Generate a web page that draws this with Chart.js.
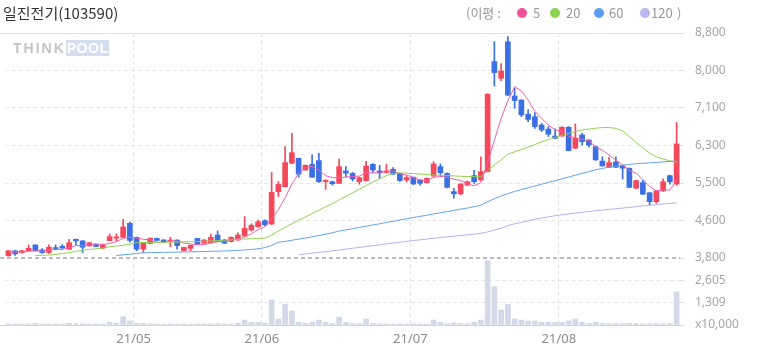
<!DOCTYPE html>
<html><head><meta charset="utf-8">
<script src="https://cdn.jsdelivr.net/npm/chart.js@4.4.1/dist/chart.umd.min.js"></script>
<style>
html,body{margin:0;padding:0;background:#fff;}
#wrap{position:relative;width:758px;height:355px;overflow:hidden;font-family:'Noto Sans CJK KR','Noto Sans',sans-serif;}
#c{position:absolute;left:0;top:0;}
.t{position:absolute;white-space:nowrap;}
#title{left:3px;top:3px;font-size:15px;color:#333;line-height:20px;}
.lg{top:4px;font-size:13px;color:#999;line-height:18px;}
.dot{position:absolute;top:8px;width:10px;height:10px;border-radius:50%;}
#wm{left:13px;top:41px;font-family:'Liberation Sans',Arial,sans-serif;font-weight:bold;font-size:14px;line-height:14px;}
</style></head>
<body><div id="wrap">
<canvas id="c" width="758" height="355"></canvas>
<div id="title" class="t">일진전기(103590)</div>
<div class="t lg" style="left:466px">(이평 :</div>
<div class="dot" style="left:517px;background:#f2509c"></div>
<div class="t lg" style="left:533px">5</div>
<div class="dot" style="left:550px;background:#8fd152"></div>
<div class="t lg" style="left:566px">20</div>
<div class="dot" style="left:594px;background:#5c9df3"></div>
<div class="t lg" style="left:609px">60</div>
<div class="dot" style="left:640px;background:#b9b6f2"></div>
<div class="t lg" style="left:651px">120</div>
<div class="t lg" style="left:677px">)</div>
<div id="wm" class="t"><span style="color:#c4c4c4;letter-spacing:2px">THINK</span><span style="color:#fff;background:#d3def1;letter-spacing:0.5px;padding:0 1px">POOL</span></div>
</div>
<script>
const dates = ['21/04/06','21/04/07','21/04/08','21/04/09','21/04/12','21/04/13','21/04/14','21/04/15','21/04/16','21/04/19','21/04/20','21/04/21','21/04/22','21/04/23','21/04/26','21/04/27','21/04/28','21/04/29','21/04/30',
'21/05/03','21/05/04','21/05/06','21/05/07','21/05/10','21/05/11','21/05/12','21/05/13','21/05/14','21/05/17','21/05/18','21/05/20','21/05/21','21/05/24','21/05/25','21/05/26','21/05/27','21/05/28','21/05/31',
'21/06/01','21/06/02','21/06/03','21/06/04','21/06/07','21/06/08','21/06/09','21/06/10','21/06/11','21/06/14','21/06/15','21/06/16','21/06/17','21/06/18','21/06/21','21/06/22','21/06/23','21/06/24','21/06/25','21/06/28','21/06/29','21/06/30',
'21/07/01','21/07/02','21/07/05','21/07/06','21/07/07','21/07/08','21/07/09','21/07/12','21/07/13','21/07/14','21/07/15','21/07/16','21/07/19','21/07/20','21/07/21','21/07/22','21/07/23','21/07/26','21/07/27','21/07/28','21/07/29','21/07/30',
'21/08/02','21/08/03','21/08/04','21/08/05','21/08/06','21/08/09','21/08/10','21/08/11','21/08/12','21/08/13','21/08/17','21/08/18','21/08/19','21/08/20','21/08/23','21/08/24','21/08/25','21/08/26'];

const open = [3850,3960,3920,3960,4090,3980,3920,4030,4060,3995, 4215,4180,4070,4100,4020,4185,4240,4260,4570,4260,
 3995,4125,4235,4200,4180,4200,3965,4015,4235,4130, 4140,4310,4200,4165,4200,4290,4420,4495,4630,4555,
 5275,5385,5905,6015,5755,5880,5965,5500,5495,5460, 5735,5680,5495,5520,5880,5735,5700,5770,5680,5535,
 5595,5535,5475,5620,5830,5680,5275,5225,5420,5630, 5535,5720,8165,7795,8605,7400,7310,6995,6940,6755,
 6665,6510,6510,6705,6240,6535,6420,6275,5955,5815, 5935,5845,5795,5350,5475,5250,5050,5290,5630,5445];
const high = [3970,3970,3970,4090,4095,4010,4090,4090,4100,4215, 4220,4185,4150,4115,4110,4335,4335,4660,4600,4265,
 4130,4250,4245,4210,4260,4205,4040,4090,4240,4210, 4330,4400,4210,4270,4360,4720,4560,4640,4650,5700,
 5500,6275,6570,6020,5870,6090,6125,5540,5510,6000, 5830,5700,5600,5950,5900,5860,5880,5810,5690,5630,
 5600,5545,5580,5940,5890,5690,5350,5450,5510,5750, 6050,7450,8610,8120,8720,7570,7320,7100,7030,6790,
 6720,6670,6720,6720,6780,6570,6430,6290,6050,6030, 6050,5860,5800,5530,5530,5260,5300,5560,5640,6810];
const low = [3840,3860,3910,3950,3955,3900,3900,3980,4010,3990, 4090,3920,4060,4050,4000,4180,4180,4255,4150,3960,
 3920,4115,4180,4150,4050,3995,3950,3960,4095,4125, 4130,4160,4120,4160,4190,4280,4400,4480,4520,4540,
 5165,5380,5900,5595,5750,5590,5480,5325,5420,5450, 5600,5510,5440,5510,5690,5570,5690,5650,5500,5490,
 5430,5420,5465,5610,5607,5360,5130,5210,5410,5460, 5520,5710,7620,7740,7410,7125,6940,6830,6680,6610,
 6500,6450,6500,6180,6230,6310,6270,5970,5840,5810, 5810,5555,5360,5340,5210,4980,5015,5280,5440,5420];
const close = [3960,3890,3960,4015,3960,3920,4040,4010,4020,4140, 4180,4040,4140,4055,4090,4275,4270,4490,4190,3995,
 4125,4235,4190,4160,4200,4075,4035,4080,4105,4200, 4260,4165,4130,4260,4310,4460,4530,4605,4535,5260,
 5435,5920,6140,5665,5860,5595,5495,5530,5450,5830, 5685,5555,5585,5845,5755,5700,5735,5665,5520,5585,
 5445,5460,5570,5890,5695,5370,5225,5445,5495,5495, 5720,7440,7920,7955,7420,7300,6980,6880,6720,6645,
 6550,6460,6705,6185,6460,6385,6310,5980,5845,5920, 5815,5795,5370,5520,5220,5050,5290,5495,5495,6335];
const volume = [70,60,55,75,90,60,65,55,60,95, 80,70,60,55,60,160,110,485,235,95,
 80,70,60,55,70,60,55,50,65,60, 70,80,60,65,110,290,160,150,110,1460,
 350,1205,816,160,100,160,290,160,80,470, 160,80,80,350,90,70,65,60,70,60,
 65,60,55,290,160,80,120,90,70,160, 290,3750,2235,875,1195,350,290,235,235,160,
 160,140,150,235,350,160,90,160,90,80, 80,80,90,80,70,80,80,70,90,1930];

const ma5 = [3940,3930,3935,3950,3957,3949,3979,3989,3990,4026, 4078,4078,4106,4111,4101,4120,4166,4236,4263,4244,
 4214,4207,4147,4141,4182,4172,4132,4110,4099,4099, 4136,4162,4172,4203,4225,4265,4338,4433,4488,4678,
 4873,5139,5446,5684,5804,5836,5751,5629,5586,5580, 5598,5610,5621,5700,5693,5688,5724,5740,5675,5641,
 5590,5535,5514,5590,5612,5597,5550,5525,5446,5406, 5476,5919,6414,6906,7291,7607,7515,7307,7060,6905,
 6755,6651,6616,6509,6472,6439,6409,6264,6196,6088, 5974,5871,5749,5684,5544,5391,5290,5315,5310,5533];
const ma20 = [null,null,null,null,3855,3860,3867,3880,3900,3920, 3945,3975,3990,4005,4020,4050,4065,4085,4105,4140,
 4143,4145,4148,4150,4152,4155,4157,4160,4165,4172, 4180,4188,4195,4203,4212,4220,4228,4235,4240,4310,
 4400,4480,4560,4640,4710,4790,4860,4940,5010,5090, 5170,5250,5330,5410,5490,5560,5630,5680,5690,5685,
 5675,5665,5655,5645,5640,5635,5625,5615,5610,5607, 5610,5740,5870,5980,6110,6160,6210,6265,6320,6380,
 6430,6480,6530,6570,6610,6645,6665,6685,6698,6700, 6680,6620,6500,6370,6250,6130,6050,6000,5960,5930];
const ma60 = [null,null,null,null,null,null,null,null,null,null, null,null,null,null,null,null,3855,3870,3885,3900,
 3915,3920,3922,3925,3928,3930,3933,3936,3940,3944, 3948,3952,3956,3962,3970,3980,3990,4005,4030,4080,
 4150,4170,4195,4220,4245,4270,4300,4330,4360,4400, 4425,4450,4480,4505,4535,4560,4590,4615,4645,4670,
 4700,4725,4750,4780,4805,4830,4860,4885,4910,4940, 4975,5050,5120,5180,5230,5280,5320,5360,5400,5440,
 5480,5520,5560,5600,5640,5680,5720,5760,5790,5820, 5845,5865,5880,5895,5905,5915,5925,5935,5945,5955];
const ma120 = [null,null,null,null,null,null,null,null,null,null, null,null,null,null,null,null,null,null,null,null,
 null,null,null,null,null,null,null,null,null,null, null,null,null,null,null,null,null,null,null,null,
 null,null,null,3870,3890,3905,3925,3940,3960,3978, 3998,4017,4036,4055,4074,4093,4112,4131,4150,4170,
 4188,4205,4222,4238,4254,4270,4285,4300,4315,4330, 4348,4380,4420,4460,4520,4560,4590,4625,4660,4690,
 4715,4740,4760,4780,4800,4815,4830,4850,4865,4880, 4895,4910,4925,4940,4955,4970,4985,5000,5012,5025];

const priceMin = 3800, priceMax = 8800;
const priceTickLabels = ['3,800','4,600','5,500','6,300','7,100','8,000','8,800'];
const volMax = 3909;
const volTickValues = [0, 1309, 2605];
const volTickLabels = ['x10,000','1,309','2,605'];

const UP = '#f5485c', DOWN = '#3b70e4';
const candleColors = close.map((c, i) => c >= open[i] ? UP : DOWN);
const monthStart = i => i > 0 && i < dates.length && dates[i].slice(0,5) !== dates[i-1].slice(0,5);
const GRID = '#e6e6e6';
const tickFont = {family: "'Noto Sans', sans-serif", size: 12};

const framePlugin = {
  id: 'frame',
  beforeDatasetsDraw(chart) {
    const {ctx, chartArea: a, scales: {y}} = chart;
    ctx.save();
    ctx.lineWidth = 1;
    ctx.strokeStyle = '#e3e3e3';
    ctx.beginPath(); ctx.moveTo(0, Math.round(a.top) + 0.5); ctx.lineTo(a.right, Math.round(a.top) + 0.5); ctx.stroke();
    ctx.strokeStyle = '#d4d4d4';
    ctx.beginPath(); ctx.moveTo(0, Math.round(a.bottom) + 0.5); ctx.lineTo(a.right, Math.round(a.bottom) + 0.5); ctx.stroke();
    ctx.strokeStyle = '#bcbcbc'; ctx.lineWidth = 2; ctx.setLineDash([4, 3]);
    ctx.beginPath(); ctx.moveTo(0, Math.round(y.bottom)); ctx.lineTo(a.right, Math.round(y.bottom)); ctx.stroke();
    ctx.restore();
  }
};

const lineDs = (data, color) => ({type: 'line', data, borderColor: color, borderWidth: 1, pointRadius: 0,
  tension: 0, fill: false, yAxisID: 'y', order: 0, spanGaps: false});

new Chart(document.getElementById('c'), {
  type: 'bar',
  data: {
    labels: dates,
    datasets: [
      lineDs(ma120, '#b4b0f0'),
      lineDs(ma60, '#62a2f6'),
      lineDs(ma20, '#92d152'),
      lineDs(ma5, '#f65fa8'),
      {data: open.map((o, i) => [o, close[i]]), backgroundColor: candleColors, barThickness: 5, grouped: false, yAxisID: 'y', order: 1},
      {data: low.map((l, i) => [l, high[i]]), backgroundColor: candleColors, barThickness: 1, grouped: false, yAxisID: 'y', order: 2},
      {data: volume, backgroundColor: '#d3d9e8', barThickness: 5, grouped: false, yAxisID: 'yv', order: 3}
    ]
  },
  options: {
    responsive: false, animation: false, events: [],
    layout: {padding: {top: 33, left: 5, right: 0, bottom: 0}},
    plugins: {legend: {display: false}, tooltip: {enabled: false}},
    scales: {
      x: {
        type: 'category', offset: true,
        grid: {offset: true, drawTicks: false, color: c => monthStart(c.index) ? '#e2e2e2' : 'rgba(0,0,0,0)'},
        border: {display: false, dash: [4, 3]},
        ticks: {autoSkip: false, maxRotation: 0, padding: 6, labelOffset: -3,
          color: '#8c8c8c', font: {family: "'Noto Sans', sans-serif", size: 13},
          callback: (v, i) => monthStart(i) ? dates[i].slice(0, 5) : ''},
        afterFit: s => { s.height = 30; }
      },
      y: {
        type: 'linear', position: 'right', stack: 'r', stackWeight: 225,
        min: priceMin, max: priceMax,
        afterBuildTicks: s => { s.ticks = priceTickLabels.map((_, k) => ({value: priceMin + k * (priceMax - priceMin) / (priceTickLabels.length - 1)})); },
        grid: {color: c => (c.index === 0 || c.index === priceTickLabels.length - 1) ? 'rgba(0,0,0,0)' : GRID, tickLength: 4, tickColor: '#e0e0e0'},
        border: {display: false, dash: [4, 3]},
        ticks: {autoSkip: false, padding: 11, color: '#a6a6a6', font: tickFont, callback: (v, i) => priceTickLabels[i]},
        afterFit: s => { s.width = 78; }
      },
      yv: {
        type: 'linear', position: 'right', stack: 'r', stackWeight: 67,
        min: 0, max: volMax,
        afterBuildTicks: s => { s.ticks = volTickValues.map(v => ({value: v})); },
        grid: {color: c => c.index === 0 ? 'rgba(0,0,0,0)' : GRID, tickLength: 4, tickColor: '#e0e0e0'},
        border: {display: false, dash: [4, 3]},
        ticks: {autoSkip: false, padding: 11, color: '#a6a6a6', font: tickFont, callback: (v, i) => volTickLabels[i]},
        afterFit: s => { s.width = 78; }
      }
    }
  },
  plugins: [framePlugin]
});
</script>
</body></html>
